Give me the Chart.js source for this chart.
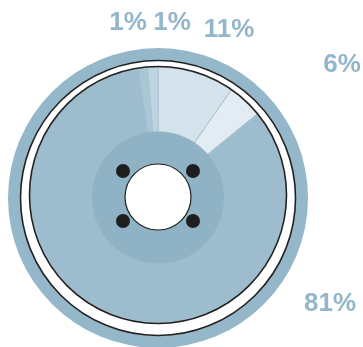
<!DOCTYPE html>
<html>
<head>
<meta charset="utf-8">
<script src="https://cdn.jsdelivr.net/npm/chart.js@4.4.1/dist/chart.umd.min.js"></script>
<style>
  html, body { margin: 0; padding: 0; background: #fff; }
  #wrap { width: 363px; height: 347px; position: relative; }
</style>
</head>
<body>
<div id="wrap"><canvas id="wheel"></canvas></div>
<script>
// slices clockwise from 12 o'clock
const categories = ['B', 'C', 'A', 'D', 'E'];
const percentLabels = [11, 6, 81, 1, 1];
// share of the circle each wedge takes in the picture
const sliceShares = [9.7, 4.4, 83.5, 1.1, 1.3];
const sliceColors = ['#d3e2eb', '#e3ecf2', '#9dbdce', '#aac7d6', '#bed4e0'];

// where each percentage label sits (center of text)
const labelPos = [[229, 29], [342, 64], [330, 303], [128, 22], [172, 22]];

const textColor = '#93b6ca';
const ringColor = '#94b7c9';
const hubColor = '#8fb2c4';
const lineColor = '#222';

const wheel = {
  id: 'wheel',
  beforeDatasetsDraw(chart) {
    const ctx = chart.ctx;
    const arc = chart.getDatasetMeta(0).data[0];
    const cx = arc.x, cy = arc.y + 3;
    ctx.save();
    // outer tyre
    ctx.beginPath();
    ctx.arc(cx, cy, 150, 0, Math.PI * 2);
    ctx.fillStyle = ringColor;
    ctx.fill();
    // white rim
    ctx.beginPath();
    ctx.arc(cx, cy, 137.5, 0, Math.PI * 2);
    ctx.fillStyle = '#fff';
    ctx.fill();
    ctx.lineWidth = 1.6;
    ctx.strokeStyle = lineColor;
    ctx.stroke();
    ctx.restore();
  },
  afterDatasetsDraw(chart) {
    const ctx = chart.ctx;
    const arc = chart.getDatasetMeta(0).data[0];
    const cx = arc.x, cy = arc.y;
    ctx.save();
    // inner rim line
    ctx.beginPath();
    ctx.arc(cx, cy, arc.outerRadius + 0.5, 0, Math.PI * 2);
    ctx.lineWidth = 1.6;
    ctx.strokeStyle = lineColor;
    ctx.stroke();
    // hub
    ctx.beginPath();
    ctx.arc(cx, cy + 2.5, 66, 0, Math.PI * 2);
    ctx.fillStyle = hubColor;
    ctx.fill();
    // hole
    ctx.beginPath();
    ctx.arc(cx, cy + 2, 33, 0, Math.PI * 2);
    ctx.fillStyle = '#fff';
    ctx.fill();
    ctx.lineWidth = 1.2;
    ctx.strokeStyle = lineColor;
    ctx.stroke();
    // bolts
    ctx.fillStyle = '#1e1e1e';
    [[-35, -25], [35, -25], [-35, 25], [35, 25]].forEach(([dx, dy]) => {
      ctx.beginPath();
      ctx.arc(cx + dx, cy + 1 + dy, 7, 0, Math.PI * 2);
      ctx.fill();
    });
    // labels
    ctx.font = 'bold 26px "Liberation Sans", Arial, sans-serif';
    ctx.fillStyle = textColor;
    ctx.textAlign = 'center';
    ctx.textBaseline = 'middle';
    percentLabels.forEach((p, i) => {
      ctx.fillText(p + '%', labelPos[i][0], labelPos[i][1] + 1);
    });
    ctx.restore();
  }
};

new Chart(document.getElementById('wheel'), {
  type: 'pie',
  data: {
    labels: categories,
    datasets: [{
      data: sliceShares,
      backgroundColor: sliceColors,
      borderColor: '#a7c4d3',
      borderWidth: 1,
      radius: 128
    }]
  },
  options: {
    responsive: true,
    maintainAspectRatio: false,
    animation: false,
    layout: { padding: { left: 8, right: 55, top: 45, bottom: 2 } },
    plugins: {
      legend: { display: false },
      tooltip: { enabled: false }
    }
  },
  plugins: [wheel]
});
</script>
</body>
</html>
